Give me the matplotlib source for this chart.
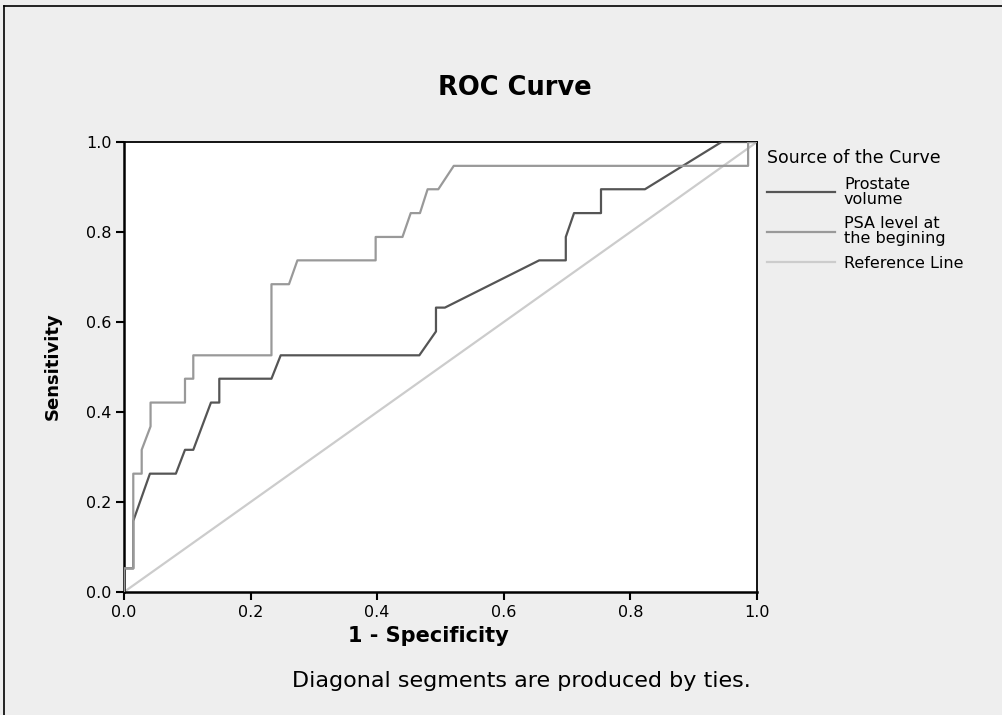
import matplotlib
matplotlib.use('Agg')
import matplotlib.pyplot as plt
import numpy as np

# ROC points (1 - specificity, sensitivity)
prostate_fpr = [0.0, 0.0, 0.0147, 0.0147, 0.041, 0.082, 0.0964, 0.1095, 0.1374, 0.1506, 0.1506,
                0.233, 0.2476, 0.4666, 0.4929, 0.4929, 0.507, 0.656, 0.698, 0.698, 0.711,
                0.7536, 0.7536, 0.823, 0.944, 1.0]
prostate_tpr = [0.0, 0.0526, 0.0526, 0.158, 0.263, 0.263, 0.316, 0.316, 0.421, 0.421, 0.474,
                0.474, 0.526, 0.526, 0.579, 0.632, 0.632, 0.737, 0.737, 0.789, 0.842,
                0.842, 0.895, 0.895, 1.0, 1.0]

psa_fpr = [0.0, 0.0, 0.0147, 0.0147, 0.028, 0.028, 0.042, 0.042, 0.0964, 0.0964, 0.1095, 0.1095,
           0.233, 0.233, 0.2607, 0.274, 0.3976, 0.3976, 0.44, 0.453, 0.4676, 0.4797, 0.4966,
           0.521, 0.986, 0.986, 1.0]
psa_tpr = [0.0, 0.0526, 0.0526, 0.263, 0.263, 0.316, 0.368, 0.421, 0.421, 0.474, 0.474, 0.526,
           0.526, 0.684, 0.684, 0.737, 0.737, 0.789, 0.789, 0.842, 0.842, 0.895, 0.895,
           0.947, 0.947, 1.0, 1.0]

ref_x = [0.0, 1.0]
ref_y = [0.0, 1.0]

ticks = [0.0, 0.2, 0.4, 0.6, 0.8, 1.0]
labels = ['Prostate\nvolume', 'PSA level at\nthe begining', 'Reference Line']

plt.rcParams['font.family'] = ['DejaVu Sans']

fig = plt.figure(figsize=(10.03, 7.15), dpi=100)
fig.patch.set_facecolor('#eeeeee')

# outer frame (left and top edges visible)
fig.add_artist(plt.Line2D([0.004, 0.004], [0.0, 0.992], color='black', lw=1.2,
                          transform=fig.transFigure))
fig.add_artist(plt.Line2D([0.004, 1.0], [0.992, 0.992], color='black', lw=1.2,
                          transform=fig.transFigure))

ax = fig.add_axes([0.1236, 0.172, 0.6311, 0.6294])
ax.set_facecolor('white')

l3, = ax.plot(ref_x, ref_y, color='#cccccc', lw=1.6, zorder=2)
l1, = ax.plot(prostate_fpr, prostate_tpr, color='#555555', lw=1.6, zorder=3)
l2, = ax.plot(psa_fpr, psa_tpr, color='#999999', lw=1.6, zorder=4)

ax.set_xlim(0, 1)
ax.set_ylim(0, 1)
ax.set_xticks(ticks)
ax.set_yticks(ticks)
ax.set_xticklabels(['%.1f' % t for t in ticks], fontsize=11.5)
ax.set_yticklabels(['%.1f' % t for t in ticks], fontsize=11.5)
ax.tick_params(direction='out', length=6, width=1.5, pad=3)
for s in ['left', 'bottom']:
    ax.spines[s].set_linewidth(1.8)
for s in ['top', 'right']:
    ax.spines[s].set_linewidth(1.3)

ax.set_xlabel('1 - Specificity', fontsize=15, fontweight='bold')
ax.xaxis.set_label_coords(0.481, -0.075)
ax.set_ylabel('Sensitivity', fontsize=13, fontweight='bold')
ax.yaxis.set_label_coords(-0.098, 0.502)

fig.text(0.513, 0.877, 'ROC Curve', fontsize=18.5, fontweight='bold',
         ha='center', va='center')
fig.text(0.52, 0.048, 'Diagonal segments are produced by ties.', fontsize=16,
         ha='center', va='center')

leg = ax.legend([l1, l2, l3], labels, title='Source of the Curve', loc='upper left',
                bbox_to_anchor=(1.0, 1.005), frameon=False, fontsize=11.5, title_fontsize=12.5,
                handlelength=4.3, handletextpad=0.55, labelspacing=0.6, borderaxespad=0.2)
leg._legend_box.align = 'left'
leg._legend_box._children[0].sep = 2  # tighter gap under the title
for t in leg.get_texts():
    t.set_linespacing(1.0)

fig.savefig('out.png', dpi=100, facecolor=fig.get_facecolor())
